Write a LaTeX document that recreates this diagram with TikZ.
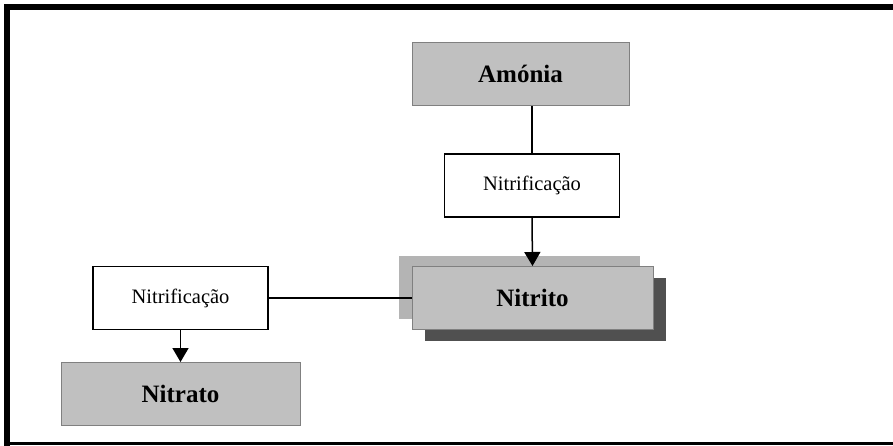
\documentclass[tikz,border=0pt]{standalone}
\usepackage{fontspec}
\setmainfont{Liberation Serif}
\usetikzlibrary{arrows.meta,positioning}
\definecolor{boxgray}{RGB}{192,192,192}
\definecolor{edgegray}{RGB}{128,128,128}
\definecolor{backgray}{RGB}{180,180,180}
\definecolor{shadegray}{RGB}{80,80,80}
\begin{document}
\begin{tikzpicture}[x=1pt, y=-1pt,
    compound/.style={draw=edgegray, line width=1pt, fill=boxgray, minimum width=#1, minimum height=63pt,
                font=\fontsize{25}{29}\selectfont\bfseries, inner sep=0pt},
    process/.style={draw, line width=1.5pt, fill=white, minimum width=175pt, minimum height=63pt,
                font=\fontsize{20.5}{24}\selectfont, inner sep=0pt},
    layer/.style={minimum width=241pt, minimum height=63pt, inner sep=0pt},
    arr/.style={-{Triangle[length=14pt, width=16pt]}, line width=1.5pt},
    link/.style={line width=1.5pt},
  ]
    \useasboundingbox (0,0) rectangle (893,445);
    % frame
    \draw[line width=6pt] (7,448) -- (7,7) -- (896,7);
    \draw[line width=3pt] (7,443) -- (896,443);

    \node[compound=217pt] (amonia) at (520.5,74) {Amónia};
    \node[process] (nitA) at (532,185.5) {Nitrificação};

    \node[layer, fill=backgray]  (nitritoback)   at (519.5,287.5) {};
    \node[layer, fill=shadegray] (nitritoshadow) at (545.5,309)   {};
    \node[compound=241pt] (nitrito) at (532.5,298) {Nitrito};

    \node[process] (nitB) at (180.5,298) {Nitrificação};
    \node[compound=239pt] (nitrato) at (180.5,394) {Nitrato};

    \draw[link] (nitA.north |- amonia.south) -- (nitA.north);
    \draw[arr] (nitA.south) -- (nitrito.north);
    \draw[link] (nitB.east) -- (nitrito.west);
    \draw[arr] (nitB.south) -- (nitrato.north);
  \end{tikzpicture}
\end{document}
